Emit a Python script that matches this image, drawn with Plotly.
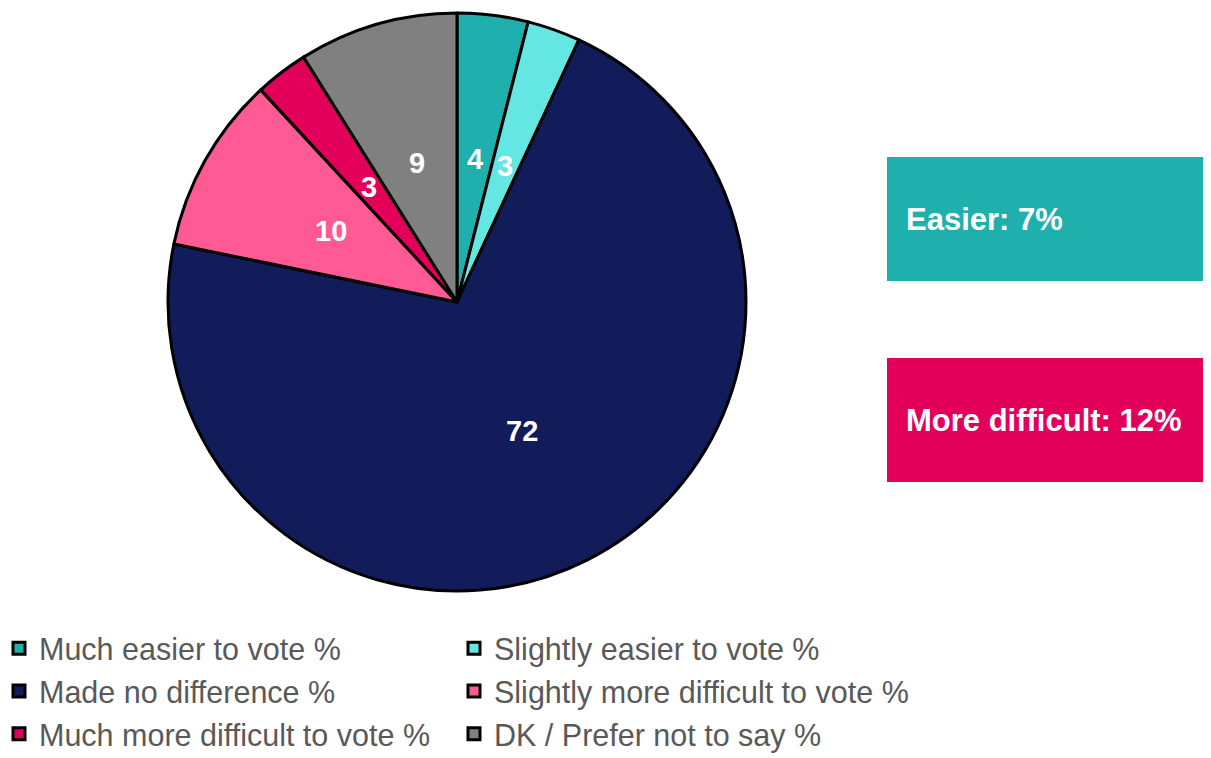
import math
import plotly.graph_objects as go

# dados
categorias = ["Much easier to vote %", "Slightly easier to vote %", "Made no difference %",
              "Slightly more difficult to vote %", "Much more difficult to vote %",
              "DK / Prefer not to say %"]
valores = [4, 3, 72, 10, 3, 9]
cores = ["#1FB0AD", "#64E6E2", "#121C5A", "#FF5A93", "#E3005A", "#808080"]

resumo_rotulos = ["Easier: 7%", "More difficult: 12%"]
resumo_cores = ["#1FB0AD", "#E3005A"]

W, H = 1211, 758
MB = 160            # margem de baixo reservada para a legenda
GH = H - MB         # altura da área do gráfico


def py(px_topo):
    # converte pixels (a partir do topo) para coordenada paper
    return (GH - px_topo) / GH


dominio_x = [160 / W, 738 / W]
dominio_y = [py(583), py(5)]

fig = go.Figure(go.Pie(
    labels=categorias, values=valores, textinfo="none",
    sort=False, direction="clockwise", rotation=0,
    marker=dict(colors=cores, line=dict(color="black", width=3)),
    domain=dict(x=dominio_x, y=dominio_y),
    hoverinfo="label+value",
))

# rótulos dos valores a meio raio, como no original
cx = (dominio_x[0] + dominio_x[1]) / 2 * W
cy = (dominio_y[0] + dominio_y[1]) / 2 * GH
raio = min((dominio_x[1] - dominio_x[0]) * W, (dominio_y[1] - dominio_y[0]) * GH) / 2
total = sum(valores)
acumulado = 0
for v in valores:
    ang = math.radians((acumulado + v / 2) / total * 360)
    acumulado += v
    fig.add_annotation(xref="paper", yref="paper",
                       x=(cx + 0.5 * raio * math.sin(ang)) / W,
                       y=(cy + 0.5 * raio * math.cos(ang)) / GH,
                       xanchor="center", yanchor="middle", showarrow=False, text=str(v),
                       font=dict(color="white", size=29, family="Liberation Sans", weight="bold"))

# caixas de resumo à direita
caixas_y = [(py(273), py(149)), (py(474), py(350))]
for (y0, y1), rotulo, cor in zip(caixas_y, resumo_rotulos, resumo_cores):
    fig.add_shape(type="rect", xref="paper", yref="paper", x0=879 / W, x1=1.0,
                  y0=y0, y1=y1, fillcolor=cor, line=dict(width=0), layer="below")
    fig.add_annotation(xref="paper", yref="paper", x=896 / W, y=(y0 + y1) / 2,
                       xanchor="left", yanchor="middle", showarrow=False, text=rotulo,
                       font=dict(color="white", size=31, family="Liberation Sans", weight="bold"))

fig.update_layout(
    width=W, height=H, margin=dict(l=0, r=0, t=0, b=MB, autoexpand=False),
    paper_bgcolor="white", plot_bgcolor="white",
    legend=dict(orientation="h", x=-9 / W, y=py(614), xanchor="left", yanchor="top",
                entrywidth=410, font=dict(size=30.5, color="#595959", family="Liberation Sans"),
                traceorder="normal"),
)

fig.write_html("out.html")
